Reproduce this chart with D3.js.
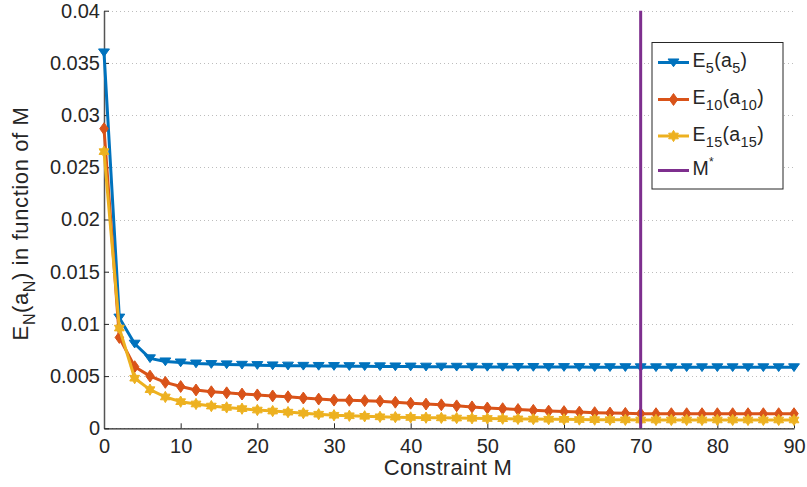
<!DOCTYPE html>
<html><head><meta charset="utf-8">
<script src="https://cdn.jsdelivr.net/npm/d3@7"></script>
<style>body{margin:0;background:#fff}svg{display:block}text{font-family:"Liberation Sans",Arial,sans-serif;fill:#262626}</style>
</head><body>
<svg id="c" width="807" height="487"></svg>
<script>
const mValues = d3.range(0, 91, 2);
const e5 = [0.0360,0.0106,0.0081,0.0067,0.0064,0.0063,0.0062,0.00615,0.00612,0.00608,0.00605,0.00602,0.006,0.00598,0.00597,0.00596,0.00595,0.00594,0.00593,0.00592,0.00591,0.0059,0.0059,0.00589,0.00589,0.00588,0.00588,0.00587,0.00587,0.00586,0.00586,0.00586,0.00585,0.00585,0.00585,0.00584,0.00584,0.00584,0.00584,0.00584,0.00584,0.00584,0.00584,0.00584,0.00584,0.00584];
const e10 = [0.0287,0.0087,0.0059,0.0050,0.0044,0.0040,0.00367,0.0035,0.0034,0.00328,0.0032,0.0031,0.00302,0.0029,0.0028,0.0027,0.00268,0.00265,0.0026,0.0025,0.0024,0.00232,0.00225,0.00215,0.00205,0.00195,0.00188,0.0018,0.00172,0.00165,0.0016,0.00155,0.0015,0.00146,0.00143,0.0014,0.0014,0.0014,0.0014,0.0014,0.0014,0.0014,0.0014,0.0014,0.0014,0.0014];
const e15 = [0.0265,0.0096,0.0048,0.0037,0.0030,0.00255,0.00233,0.00213,0.002,0.00188,0.00175,0.00165,0.00155,0.00145,0.00135,0.00125,0.0012,0.00115,0.0011,0.00107,0.00104,0.00102,0.001,0.00098,0.00096,0.00094,0.00092,0.0009,0.00088,0.00087,0.00086,0.00084,0.00083,0.00082,0.00081,0.0008,0.0008,0.0008,0.0008,0.0008,0.0008,0.0008,0.0008,0.0008,0.0008,0.0008];
const mStar = 70;
const xTicks = d3.range(0, 91, 10);
const yTicks = [0,0.005,0.01,0.015,0.02,0.025,0.03,0.035,0.04];
const yTickLabels = ["0","0.005","0.01","0.015","0.02","0.025","0.03","0.035","0.04"];

const svg = d3.select("#c");
const L = 104, R = 794, T = 10.7, B = 428.3;
const x = d3.scaleLinear().domain([0, 90]).range([L, R]);
const y = d3.scaleLinear().domain([0, 0.04]).range([B, T]);

// custom symbols (size parameter used as a linear scale)
const triDown = {draw(ctx, s){ const r=s; ctx.moveTo(-r*0.62, -r*0.4); ctx.lineTo(r*0.62, -r*0.4); ctx.lineTo(0, r*0.48); ctx.closePath(); }};
const diamond = {draw(ctx, s){ const r=s*0.55; ctx.moveTo(0,-r*1.05); ctx.lineTo(r*0.75,0); ctx.lineTo(0,r*1.05); ctx.lineTo(-r*0.75,0); ctx.closePath(); }};
const hexagram = {draw(ctx, s){ const ro=s*0.6, ri=ro*0.577; for(let i=0;i<12;i++){ const a=Math.PI/6*i - Math.PI/2; const r = i%2===0?ro:ri; const px=r*Math.cos(a), py=r*Math.sin(a); if(i===0) ctx.moveTo(px,py); else ctx.lineTo(px,py);} ctx.closePath(); }};

// grid
const g = svg.append("g");
g.selectAll("line.grid").data(yTicks).join("line")
  .attr("x1", L).attr("x2", R+1).attr("y1", d=>Math.round(y(d))+0.5).attr("y2", d=>Math.round(y(d))+0.5)
  .attr("stroke", "#bdbdbd").attr("stroke-width", 1).attr("stroke-dasharray", "1,3");

// axes
const xAxis = d3.axisBottom(x).tickValues(xTicks).tickSizeInner(-5).tickSizeOuter(0).tickPadding(10);
const gx = svg.append("g").attr("transform", `translate(0,${B})`).call(xAxis);
gx.selectAll("text").attr("font-size", 20).style("fill", "#262626").attr("dy", "0.72em");
gx.select(".domain").attr("stroke", "#262626").attr("stroke-width", 1.2);
gx.selectAll(".tick line").attr("stroke", "#262626");

const yAxis = d3.axisLeft(y).tickValues(yTicks).tickFormat((d,i)=>yTickLabels[i]).tickSizeInner(-5).tickSizeOuter(0).tickPadding(4);
const gy = svg.append("g").attr("transform", `translate(${L},0)`).call(yAxis);
gy.selectAll("text").attr("font-size", 20).style("fill", "#262626");
gy.select(".domain").attr("stroke", "#555").attr("stroke-width", 1.5);
gy.selectAll(".tick line").attr("stroke", "#262626");

// series
const series = [
  {vals: e5, color: "#0072BD", sym: triDown, size: 8.8},
  {vals: e10, color: "#D95319", sym: diamond, size: 10.3},
  {vals: e15, color: "#EDB120", sym: hexagram, size: 9.4},
];
const line = d3.line().x(d=>x(d[0])).y(d=>y(d[1]));
series.forEach(s => {
  const pts = mValues.map((m,i)=>[m, s.vals[i]]);
  svg.append("path").datum(pts).attr("d", line).attr("fill","none").attr("stroke", s.color).attr("stroke-width", 3).attr("stroke-linejoin","round");
  svg.append("g").selectAll("path").data(pts).join("path")
    .attr("transform", d=>`translate(${x(d[0])},${y(d[1])})`)
    .attr("d", d3.symbol().type(s.sym).size(s.size))
    .attr("fill", s.color).attr("stroke", s.color).attr("stroke-width", 1);
});

// M* line
svg.append("line").attr("x1", x(mStar)).attr("x2", x(mStar)).attr("y1", y(0.04)).attr("y2", B)
  .attr("stroke", "#7E2F8E").attr("stroke-width", 3);

// axis labels
svg.append("text").attr("x", (L+R)/2 - 1).attr("y", 475).attr("text-anchor","middle").attr("font-size", 22).attr("letter-spacing", 0.3).text("Constraint M");
const yl = svg.append("text").attr("transform", `translate(28.3,223.5) rotate(-90)`).attr("text-anchor","middle").attr("font-size", 22).attr("letter-spacing", 0.6);
yl.append("tspan").text("E");
yl.append("tspan").attr("font-size", 16).attr("dy", 7).text("N");
yl.append("tspan").attr("dy", -7).text("(a");
yl.append("tspan").attr("font-size", 16).attr("dy", 7).text("N");
yl.append("tspan").attr("dy", -7).text(") in function of M");

// legend
const lg = svg.append("g");
lg.append("rect").attr("x", 652).attr("y", 42.5).attr("width", 131).attr("height", 146.5).attr("fill","#fff").attr("stroke","#262626").attr("stroke-width",1);
const legendItems = [
  {main:"E", sub:"5", arg:"5", color:"#0072BD", sym:triDown, size:8.8},
  {main:"E", sub:"10", arg:"10", color:"#D95319", sym:diamond, size:10.3},
  {main:"E", sub:"15", arg:"15", color:"#EDB120", sym:hexagram, size:9.4},
  {main:"M", sup:"*", color:"#7E2F8E"}
];
const ly = [62.5, 99.5, 136, 170.5];
legendItems.forEach((it, i) => {
  const cy = ly[i];
  lg.append("line").attr("x1", 658).attr("x2", 689).attr("y1", cy).attr("y2", cy).attr("stroke", it.color).attr("stroke-width", 3);
  if (it.sym) lg.append("path").attr("transform", `translate(673.5,${cy})`).attr("d", d3.symbol().type(it.sym).size(it.size)).attr("fill", it.color).attr("stroke", it.color);
  const t = lg.append("text").attr("x", 692.5).attr("y", cy + 4.5).attr("font-size", 19.5).attr("letter-spacing", 0.3);
  t.append("tspan").text(it.main);
  if (it.sub) {
    t.append("tspan").attr("font-size", 14.5).attr("dy", 6).text(it.sub);
    t.append("tspan").attr("dy", -6).text("(a");
    t.append("tspan").attr("font-size", 14.5).attr("dy", 6).text(it.arg);
    t.append("tspan").attr("dy", -6).text(")");
  } else {
    t.append("tspan").attr("font-size", 12).attr("dy", -9).text(it.sup);
  }
});
</script>
</body></html>
